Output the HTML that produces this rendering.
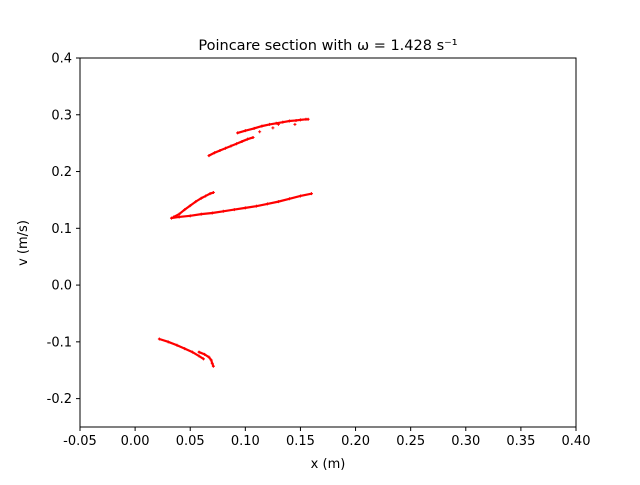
<!DOCTYPE html>
<html><head><meta charset="utf-8"><style>
body{margin:0;background:#fff}
svg{font-family:"DejaVu Sans","Liberation Sans",sans-serif}
</style></head><body>
<svg id="chart" width="640" height="480" viewBox="0 0 640 480">
<rect width="640" height="480" fill="#fff"/>
<text x="328" y="50" font-size="14.5" text-anchor="middle">Poincare section with ω = 1.428 s⁻¹</text>
<g id="xt"></g>
<g id="yt"></g>
<g id="marks"></g>
<rect x="80" y="58" width="496" height="369" fill="none" stroke="#000" stroke-width="1"/>
<text x="328" y="468" font-size="13" text-anchor="middle">x (m)</text>
<text transform="translate(27,243) rotate(-90)" font-size="13" text-anchor="middle">v (m/s)</text>
</svg>
<script>
const xTicks=[-0.05,0,0.05,0.10,0.15,0.20,0.25,0.30,0.35,0.40];
const yTicks=[-0.2,-0.1,0.0,0.1,0.2,0.3,0.4];
const upperArcX=[0.093,0.100,0.108,0.115,0.122,0.128,0.134,0.140,0.146,0.150,0.155,0.157];
const upperArcV=[0.268,0.272,0.276,0.280,0.283,0.285,0.287,0.289,0.290,0.291,0.292,0.292];
const upperLowX=[0.067,0.072,0.077,0.082,0.087,0.092,0.097,0.102,0.107];
const upperLowV=[0.228,0.233,0.237,0.241,0.245,0.249,0.253,0.257,0.260];
const strayX=[0.113,0.125,0.130,0.145];
const strayV=[0.270,0.277,0.283,0.283];
const midLeftX=[0.035,0.040,0.045,0.050,0.055,0.060,0.064,0.068,0.071];
const midLeftV=[0.120,0.125,0.133,0.140,0.147,0.153,0.157,0.161,0.163];
const midLongX=[0.033,0.040,0.050,0.060,0.070,0.080,0.090,0.100,0.110,0.120,0.130,0.140,0.150,0.160];
const midLongV=[0.118,0.120,0.122,0.125,0.127,0.130,0.133,0.136,0.139,0.143,0.147,0.152,0.157,0.161];
const lowLineX=[0.022,0.030,0.038,0.045,0.052,0.058,0.062];
const lowLineV=[-0.095,-0.100,-0.106,-0.112,-0.118,-0.125,-0.130];
const lowHookX=[0.058,0.063,0.067,0.069,0.070,0.071];
const lowHookV=[-0.118,-0.122,-0.127,-0.132,-0.138,-0.143];
const X0=80,X1=576,Y0=427,Y1=58,xmin=-0.05,xmax=0.40,ymin=-0.25,ymax=0.40;
const sx=v=>X0+(v-xmin)/(xmax-xmin)*(X1-X0);
const sy=v=>Y0-(v-ymin)/(ymax-ymin)*(Y0-Y1);
const NS="http://www.w3.org/2000/svg";
function mk(t,a,p){const e=document.createElementNS(NS,t);for(const k in a)e.setAttribute(k,a[k]);p.appendChild(e);return e;}
const xt=document.getElementById('xt'),yt=document.getElementById('yt'),mg=document.getElementById('marks');
xTicks.forEach(t=>{const x=sx(t);
 const l=mk('line',{x1:x,x2:x,y1:427,y2:431,stroke:'#000'},xt);
 
 
 const s=mk('text',{x:x,y:445,'font-size':13,'text-anchor':'middle'},xt);s.textContent=t.toFixed(2);
 
 });
yTicks.forEach(t=>{const y=sy(t);
 const l=mk('line',{x1:76,x2:80,y1:y,y2:y,stroke:'#000'},yt);
 
 
 const s=mk('text',{x:72,y:y+4.5,'font-size':13,'text-anchor':'end'},yt);s.textContent=t.toFixed(1);
 
 });
function series(xs,vs,name,line){
 if(line){const pl=mk('polyline',{points:xs.map((x,i)=>sx(x)+','+sy(vs[i])).join(' '),fill:'none',stroke:'#f00','stroke-width':2.2,'stroke-linecap':'round'},mg);
  
  }
 xs.forEach((x,i)=>{const px=sx(x),py=sy(vs[i]);
  const p=mk('path',{d:`M${px-1.5},${py}h3M${px},${py-1.5}v3`,stroke:'#f00','stroke-width':1},mg);
  
  });
}
series(upperArcX,upperArcV,'upper-arc',true);
series(upperLowX,upperLowV,'upper-low-branch',true);
series(strayX,strayV,'stray',false);
series(midLeftX,midLeftV,'mid-left-branch',true);
series(midLongX,midLongV,'mid-long-branch',true);
series(lowLineX,lowLineV,'low-line',true);
series(lowHookX,lowHookV,'low-hook',true);
</script>
</body></html>
